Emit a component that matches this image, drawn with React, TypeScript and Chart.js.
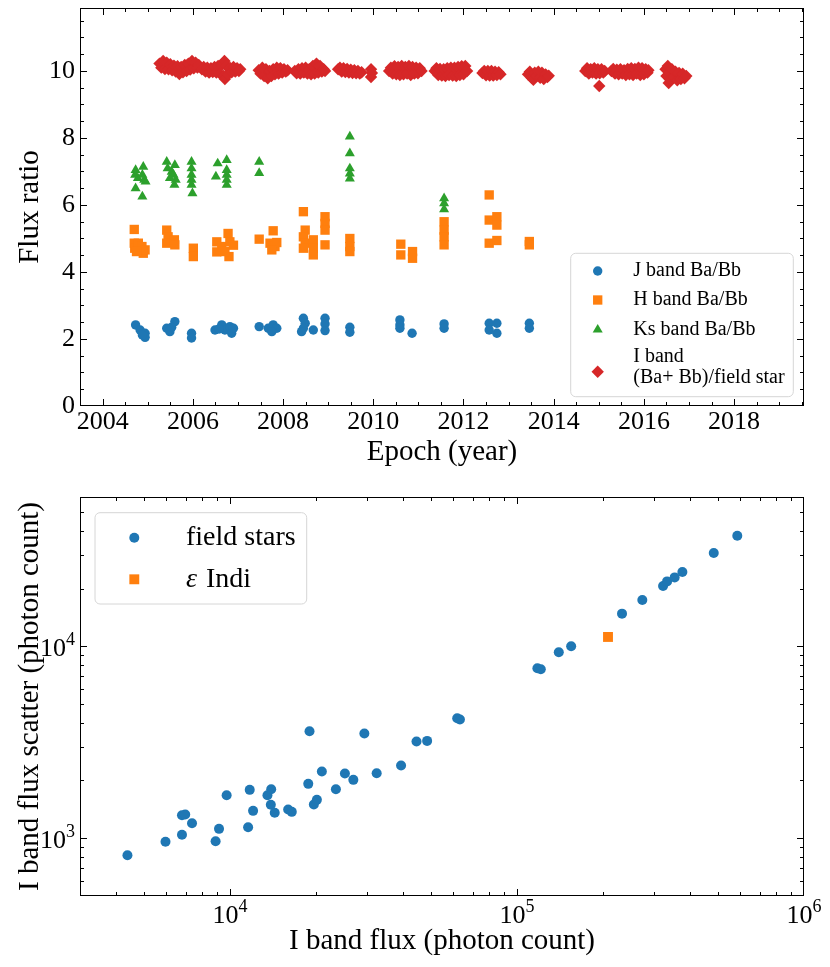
import React, { useEffect, useRef } from 'react';
import { Chart, registerables } from 'chart.js';

Chart.register(...registerables);

const SERIF = 'Liberation Serif';
const BLUE = '#1f77b4';
const ORANGE = '#ff7f0e';
const GREEN = '#2ca02c';
const RED = '#d62728';

// ---------- Top panel: flux ratio vs epoch ----------
const jYear = [2004.73, 2004.83, 2004.94, 2004.94, 2004.88, 2005.42, 2005.60, 2005.49, 2005.53, 2005.97, 2005.97, 2006.49, 2006.64, 2006.71, 2006.82, 2006.86, 2006.90, 2006.58, 2007.47, 2007.67, 2007.78, 2007.86, 2007.75, 2008.45, 2008.49, 2008.45, 2008.41, 2008.67, 2008.93, 2008.93, 2008.93, 2009.48, 2009.48, 2010.59, 2010.59, 2010.59, 2010.86, 2011.57, 2011.57, 2012.57, 2012.74, 2012.57, 2012.74, 2013.46, 2013.46];
const jRatio = [2.42, 2.27, 2.17, 2.05, 2.12, 2.32, 2.52, 2.22, 2.35, 2.17, 2.03, 2.27, 2.42, 2.27, 2.37, 2.17, 2.32, 2.30, 2.37, 2.32, 2.42, 2.32, 2.22, 2.62, 2.47, 2.32, 2.22, 2.27, 2.62, 2.45, 2.25, 2.35, 2.20, 2.57, 2.42, 2.32, 2.17, 2.45, 2.32, 2.47, 2.47, 2.27, 2.17, 2.47, 2.32];

const hYear = [2004.70, 2004.70, 2004.71, 2004.79, 2004.87, 2004.90, 2004.94, 2004.75, 2005.42, 2005.45, 2005.42, 2005.59, 2005.60, 2006.01, 2006.01, 2006.53, 2006.53, 2006.64, 2006.78, 2006.82, 2006.90, 2006.80, 2006.71, 2007.47, 2007.78, 2007.71, 2007.82, 2007.86, 2007.75, 2008.45, 2008.49, 2008.45, 2008.49, 2008.45, 2008.67, 2008.67, 2008.67, 2008.93, 2008.93, 2008.93, 2008.93, 2009.48, 2009.48, 2009.48, 2010.61, 2010.61, 2010.87, 2010.87, 2011.57, 2011.57, 2011.57, 2011.57, 2012.57, 2012.57, 2012.74, 2012.74, 2012.57, 2012.74, 2013.46, 2013.46];
const hRatio = [5.27, 4.86, 4.71, 4.86, 4.76, 4.56, 4.66, 4.61, 5.25, 5.05, 4.86, 4.96, 4.81, 4.71, 4.46, 4.90, 4.60, 4.76, 5.15, 4.90, 4.80, 4.46, 4.61, 4.98, 5.23, 4.86, 4.76, 4.88, 4.66, 5.80, 5.25, 5.05, 4.86, 4.71, 4.96, 4.71, 4.51, 5.65, 5.45, 5.25, 4.81, 5.00, 4.76, 4.61, 4.83, 4.51, 4.61, 4.41, 5.50, 5.25, 5.05, 4.81, 6.30, 5.55, 5.65, 5.40, 4.86, 4.94, 4.91, 4.81];

const kYear = [2004.73, 2004.72, 2004.78, 2004.90, 2004.88, 2004.92, 2004.95, 2004.73, 2004.88, 2005.42, 2005.44, 2005.53, 2005.60, 2005.57, 2005.62, 2005.59, 2005.49, 2005.97, 2005.97, 2005.97, 2005.97, 2005.97, 2005.99, 2006.55, 2006.51, 2006.75, 2006.75, 2006.75, 2006.75, 2006.75, 2007.47, 2007.47, 2009.48, 2009.48, 2009.48, 2009.48, 2009.48, 2011.57, 2011.57, 2011.57];
const kRatio = [7.04, 6.90, 6.80, 7.14, 6.90, 6.75, 6.70, 6.50, 6.25, 7.29, 7.09, 6.99, 7.19, 6.90, 6.75, 6.60, 6.80, 7.29, 7.09, 6.90, 6.75, 6.60, 6.35, 7.24, 6.85, 7.34, 7.04, 6.90, 6.75, 6.60, 7.29, 6.95, 8.04, 7.54, 7.09, 6.94, 6.79, 6.20, 6.05, 5.87];

const iYear = [
  2005.26, 2005.30, 2005.34, 2005.38, 2005.42, 2005.46, 2005.50, 2005.54, 2005.58, 2005.62, 2005.66, 2005.70, 2005.74, 2005.78, 2005.82, 2005.86, 2005.90, 2005.94, 2005.98, 2006.02, 2006.06, 2006.10, 2006.13,
  2006.20, 2006.24, 2006.28, 2006.32, 2006.36, 2006.40, 2006.44, 2006.48, 2006.52, 2006.56, 2006.60, 2006.64, 2006.68, 2006.70, 2006.71, 2006.74, 2006.78, 2006.82, 2006.86, 2006.90, 2006.94, 2006.98, 2007.02, 2007.05,
  2007.46, 2007.50, 2007.54, 2007.58, 2007.62, 2007.66, 2007.70, 2007.74, 2007.78, 2007.82, 2007.86, 2007.90, 2007.94, 2007.98, 2008.02, 2008.06, 2008.10,
  2008.26, 2008.30, 2008.34, 2008.38, 2008.42, 2008.46, 2008.50, 2008.54, 2008.58, 2008.62, 2008.66, 2008.70, 2008.74, 2008.78, 2008.82, 2008.86, 2008.90, 2008.93,
  2009.22, 2009.26, 2009.30, 2009.34, 2009.38, 2009.42, 2009.46, 2009.50, 2009.54, 2009.58, 2009.62, 2009.66, 2009.70, 2009.74,
  2009.95, 2009.95, 2009.97,
  2010.35, 2010.39, 2010.43, 2010.47, 2010.51, 2010.55, 2010.59, 2010.63, 2010.67, 2010.71, 2010.75, 2010.79, 2010.83, 2010.87, 2010.91, 2010.95, 2010.99, 2011.03, 2011.07,
  2011.36, 2011.40, 2011.44, 2011.48, 2011.52, 2011.56, 2011.60, 2011.64, 2011.68, 2011.72, 2011.76, 2011.80, 2011.84, 2011.88, 2011.92, 2011.96, 2012.00, 2012.04, 2012.08,
  2012.42, 2012.46, 2012.50, 2012.54, 2012.58, 2012.62, 2012.66, 2012.70, 2012.74, 2012.78, 2012.82,
  2013.43, 2013.47, 2013.51, 2013.55, 2013.58, 2013.62, 2013.66, 2013.70, 2013.74, 2013.78, 2013.82, 2013.86, 2013.89,
  2014.70, 2014.74, 2014.78, 2014.82, 2014.86, 2014.90, 2014.94, 2014.98, 2015.01, 2015.02, 2015.06, 2015.10, 2015.13,
  2015.28, 2015.32, 2015.36, 2015.40, 2015.44, 2015.48, 2015.52, 2015.56, 2015.60, 2015.64, 2015.68, 2015.72, 2015.76, 2015.80, 2015.84, 2015.88, 2015.92, 2015.96, 2016.00, 2016.04, 2016.08, 2016.10,
  2016.48, 2016.50, 2016.53, 2016.55, 2016.56, 2016.58, 2016.62, 2016.66, 2016.70, 2016.74, 2016.78, 2016.82, 2016.86, 2016.90, 2016.94,
];
const iRatio = [
  10.22, 10.10, 10.30, 10.06, 10.25, 10.05, 10.20, 10.02, 10.16, 9.98, 10.14, 9.91, 10.12, 9.96, 10.18, 10.00, 10.22, 10.04, 10.30, 10.08, 10.25, 10.10, 10.18,
  10.05, 10.12, 9.98, 10.10, 9.95, 10.08, 9.97, 10.12, 9.95, 10.15, 9.92, 10.18, 9.85, 10.30, 9.76, 10.15, 9.90, 10.10, 9.96, 10.12, 9.98, 10.08, 10.00, 10.05,
  10.02, 9.92, 10.10, 9.85, 10.05, 9.78, 10.00, 9.85, 10.05, 9.90, 10.10, 9.92, 10.08, 9.95, 10.05, 9.98, 10.02,
  10.00, 9.93, 10.05, 9.92, 10.08, 9.95, 10.10, 9.92, 10.05, 9.90, 10.15, 9.92, 10.22, 9.95, 10.15, 9.98, 10.05, 10.00,
  10.05, 10.10, 9.98, 10.08, 9.97, 10.06, 9.95, 10.04, 9.94, 10.02, 9.93, 10.00, 9.92, 9.96,
  10.05, 9.82, 9.94,
  10.00, 10.10, 9.92, 10.14, 9.90, 10.12, 9.88, 10.15, 9.90, 10.12, 9.92, 10.15, 9.88, 10.12, 9.92, 10.10, 9.93, 10.08, 10.00,
  10.00, 10.08, 9.88, 10.06, 9.86, 10.05, 9.85, 10.08, 9.88, 10.10, 9.86, 10.10, 9.85, 10.12, 9.88, 10.14, 9.90, 10.15, 10.00,
  9.94, 10.00, 9.87, 10.00, 9.86, 10.00, 9.86, 9.98, 9.88, 9.96, 9.90,
  9.90, 9.98, 9.80, 9.74, 9.95, 9.85, 9.98, 9.80, 9.95, 9.76, 9.90, 9.82, 9.86,
  10.00, 10.08, 9.92, 10.05, 9.95, 10.08, 9.92, 10.05, 9.55, 9.93, 10.05, 9.95, 10.00,
  10.00, 10.06, 9.92, 10.04, 9.90, 10.05, 9.92, 10.02, 9.88, 10.06, 9.90, 10.08, 9.88, 10.06, 9.92, 10.10, 9.88, 10.08, 9.90, 10.05, 9.95, 10.02,
  10.05, 9.85, 10.15, 9.64, 9.95, 9.75, 10.05, 9.82, 9.98, 9.72, 9.94, 9.76, 9.92, 9.78, 9.85,
];

const yearTicks = [2004, 2006, 2008, 2010, 2012, 2014, 2016, 2018];
const ratioTicks = [0, 2, 4, 6, 8, 10];

// ---------- Bottom panel: I band flux vs scatter ----------
const fieldFlux = [4390, 5957, 6800, 6800, 6980, 7370, 8906, 9153, 9730, 11560, 11710, 12030, 13500, 13910, 13870, 14310, 15940, 16410, 18730, 18920, 19590, 20070, 20890, 23380, 25130, 26890, 29380, 32430, 39440, 44640, 48610, 61880, 63250, 117750, 121000, 139800, 154400, 232200, 273300, 322800, 333400, 354300, 376900, 484800, 585500];
const fieldScatter = [815, 958, 1042, 1318, 1329, 1197, 965, 1119, 1675, 1141, 1787, 1389, 1675, 1800, 1493, 1357, 1411, 1372, 1920, 3608, 1498, 1585, 2225, 1800, 2173, 2015, 3510, 2181, 2391, 3189, 3216, 4217, 4152, 7681, 7588, 9306, 10000, 14800, 17450, 20640, 21800, 22870, 24410, 30650, 37730];
const epsFlux = [207500];
const epsScatter = [11190];

const fluxTicks = [1e4, 1e5, 1e6];
const scatterTicks = [1e3, 1e4];

const pts = (xs: number[], ys: number[]) => xs.map((x, i) => ({ x, y: ys[i] }));

function linSteps(a: number, b: number, step: number) {
  const out: number[] = [];
  for (let v = a; v <= b + 1e-9; v += step) out.push(+v.toFixed(6));
  return out;
}
function logMinor(fromExp: number, toExp: number) {
  const out: number[] = [];
  for (let e = fromExp; e <= toExp; e++) for (let m = 2; m <= 9; m++) out.push(m * Math.pow(10, e));
  return out;
}

function drawMarker(ctx: CanvasRenderingContext2D, style: string, x: number, y: number, r: number) {
  ctx.beginPath();
  if (style === 'circle') {
    ctx.arc(x, y, r, 0, Math.PI * 2);
  } else if (style === 'rect') {
    const s = r * Math.SQRT1_2;
    ctx.rect(x - s, y - s, 2 * s, 2 * s);
  } else if (style === 'triangle') {
    for (let k = 0; k < 3; k++) {
      const a = (k * 2 * Math.PI) / 3;
      const px = x + Math.sin(a) * r;
      const py = y - Math.cos(a) * r;
      if (k === 0) ctx.moveTo(px, py);
      else ctx.lineTo(px, py);
    }
  } else if (style === 'rectRot') {
    ctx.moveTo(x - r, y);
    ctx.lineTo(x, y - r);
    ctx.lineTo(x + r, y);
    ctx.lineTo(x, y + r);
  }
  ctx.closePath();
  ctx.fill();
}

const frameTicks = {
  id: 'frameTicks',
  afterDatasetsDraw(chart: any, _args: any, o: any) {
    const { ctx, chartArea: a } = chart;
    const xs = chart.scales.x;
    const ys = chart.scales.y;
    const L = a.left, R = a.right, T = a.top, B = a.bottom;
    ctx.save();
    ctx.strokeStyle = '#000';
    ctx.lineWidth = 1;
    ctx.beginPath();
    const doX = (vals: number[], len: number) => {
      vals.forEach((v) => {
        const px = xs.getPixelForValue(v);
        if (px < L + 1 || px > R - 1) return;
        const p = Math.round(px) + 0.5;
        ctx.moveTo(p, B); ctx.lineTo(p, B - len);
        ctx.moveTo(p, T); ctx.lineTo(p, T + len);
      });
    };
    const doY = (vals: number[], len: number) => {
      vals.forEach((v) => {
        const py = ys.getPixelForValue(v);
        if (py < T + 1 || py > B - 1) return;
        const p = Math.round(py) + 0.5;
        ctx.moveTo(L, p); ctx.lineTo(L + len, p);
        ctx.moveTo(R, p); ctx.lineTo(R - len, p);
      });
    };
    doX(o.xMajor, o.majorLen);
    doX(o.xMinor, o.minorLen);
    doY(o.yMajor, o.majorLen);
    doY(o.yMinor, o.minorLen);
    ctx.stroke();
    ctx.strokeRect(L + 0.5, T + 0.5, R - L - 1, B - T - 1);
    ctx.restore();
  },
};

const boxLegend = {
  id: 'boxLegend',
  afterDraw(chart: any, _args: any, o: any) {
    const { ctx, chartArea: a } = chart;
    const x0 = a.left + o.left;
    const y0 = a.top + o.top;
    const w = o.width, h = o.height, r = 5;
    ctx.save();
    ctx.beginPath();
    ctx.moveTo(x0 + r, y0);
    ctx.lineTo(x0 + w - r, y0);
    ctx.arcTo(x0 + w, y0, x0 + w, y0 + r, r);
    ctx.lineTo(x0 + w, y0 + h - r);
    ctx.arcTo(x0 + w, y0 + h, x0 + w - r, y0 + h, r);
    ctx.lineTo(x0 + r, y0 + h);
    ctx.arcTo(x0, y0 + h, x0, y0 + h - r, r);
    ctx.lineTo(x0, y0 + r);
    ctx.arcTo(x0, y0, x0 + r, y0, r);
    ctx.closePath();
    ctx.fillStyle = 'rgba(255,255,255,0.8)';
    ctx.fill();
    ctx.strokeStyle = '#d6d6d6';
    ctx.lineWidth = 1;
    ctx.stroke();
    const upright = `${o.fontSize}px ${SERIF}`;
    const italic = `italic ${o.fontSize}px ${SERIF}`;
    ctx.textAlign = 'left';
    ctx.textBaseline = 'middle';
    o.entries.forEach((e: any) => {
      const ds = chart.data.datasets[e.ds];
      ctx.fillStyle = ds.backgroundColor;
      drawMarker(ctx, ds.pointStyle, x0 + o.markerX, y0 + e.markerY, ds.pointRadius);
      ctx.fillStyle = '#000';
      const lines = String(ds.label).split('\n');
      lines.forEach((ln: string, i: number) => {
        const ty = y0 + e.lineY[i];
        if (e.italicFirst) {
          const first = ln.charAt(0);
          const rest = ln.slice(1);
          ctx.font = italic;
          ctx.fillText(first, x0 + o.textX, ty);
          const wf = ctx.measureText(first).width;
          ctx.font = upright;
          ctx.fillText(rest, x0 + o.textX + wf + 2, ty);
        } else {
          ctx.font = upright;
          ctx.fillText(ln, x0 + o.textX, ty);
        }
      });
    });
    ctx.restore();
  },
};

const logLabels = {
  id: 'logLabels',
  afterDraw(chart: any, _args: any, o: any) {
    const { ctx, chartArea: a } = chart;
    const xs = chart.scales.x;
    const ys = chart.scales.y;
    const big = `${o.size}px ${SERIF}`;
    const small = `${o.expSize}px ${SERIF}`;
    ctx.save();
    ctx.fillStyle = '#000';
    ctx.textBaseline = 'alphabetic';
    ctx.textAlign = 'left';
    const parts = (v: number) => ['10', String(Math.round(Math.log10(v)))];
    o.xVals.forEach((v: number) => {
      const px = xs.getPixelForValue(v);
      const [b, e] = parts(v);
      ctx.font = big;
      const wb = ctx.measureText(b).width;
      ctx.font = small;
      const we = ctx.measureText(e).width;
      const sx = px - (wb + we) / 2;
      const base = a.bottom + o.xBase;
      ctx.font = big;
      ctx.fillText(b, sx, base);
      ctx.font = small;
      ctx.fillText(e, sx + wb, base - o.expRaise);
    });
    o.yVals.forEach((v: number) => {
      const py = ys.getPixelForValue(v);
      const [b, e] = parts(v);
      ctx.font = small;
      const we = ctx.measureText(e).width;
      ctx.font = big;
      const wb = ctx.measureText(b).width;
      const rx = a.left - o.yGap;
      const base = py + o.yBase;
      ctx.fillText(b, rx - we - wb, base);
      ctx.font = small;
      ctx.fillText(e, rx - we, base - o.expRaise);
    });
    ctx.restore();
  },
};

const tickFont = { family: SERIF, size: 26 };
const titleFont = { family: SERIF, size: 29 };

const fitX = (h: number) => (s: any) => {
  s.height = h;
  s.paddingLeft = 0;
  s.paddingRight = 0;
  s.paddingTop = 0;
  s.paddingBottom = 0;
};
const fitY = (w: number) => (s: any) => {
  s.width = w;
  s.paddingLeft = 0;
  s.paddingRight = 0;
  s.paddingTop = 0;
  s.paddingBottom = 0;
};

function topConfig(): any {
  return {
    type: 'scatter',
    data: {
      datasets: [
        { label: 'J band Ba/Bb', data: pts(jYear, jRatio), pointStyle: 'circle', pointRadius: 4.7, backgroundColor: BLUE, borderWidth: 0, order: 4 },
        { label: 'H band Ba/Bb', data: pts(hYear, hRatio), pointStyle: 'rect', pointRadius: 6.6, backgroundColor: ORANGE, borderWidth: 0, order: 3 },
        { label: 'Ks band Ba/Bb', data: pts(kYear, kRatio), pointStyle: 'triangle', pointRadius: 5.8, backgroundColor: GREEN, borderWidth: 0, order: 2 },
        { label: 'I band\n(Ba+ Bb)/field star', data: pts(iYear, iRatio), pointStyle: 'rectRot', pointRadius: 6.2, backgroundColor: RED, borderWidth: 0, order: 1 },
      ],
    },
    options: {
      responsive: false,
      animation: false,
      events: [],
      font: { family: SERIF },
      layout: { padding: { top: 8, right: 26, left: 0, bottom: 0 } },
      plugins: {
        legend: { display: false },
        tooltip: { enabled: false },
        frameTicks: {
          xMajor: yearTicks,
          xMinor: linSteps(2003.5, 2019.5, 0.5).filter((v) => !yearTicks.includes(v)),
          yMajor: ratioTicks,
          yMinor: linSteps(0.5, 11.5, 0.5).filter((v) => !ratioTicks.includes(v)),
          majorLen: 7,
          minorLen: 4,
        },
        boxLegend: {
          left: 490.7,
          top: 245.3,
          width: 222.6,
          height: 143.4,
          markerX: 27,
          textX: 62.6,
          fontSize: 20,
          entries: [
            { ds: 0, markerY: 17.7, lineY: [17.7] },
            { ds: 1, markerY: 46.7, lineY: [46.7] },
            { ds: 2, markerY: 76.4, lineY: [76.4] },
            { ds: 3, markerY: 118.4, lineY: [103.7, 124.7] },
          ],
        },
      },
      scales: {
        x: {
          type: 'linear',
          position: 'bottom',
          min: 2003.497,
          max: 2019.55,
          afterBuildTicks: (s: any) => { s.ticks = yearTicks.map((value) => ({ value })); },
          afterFit: fitX(74),
          grid: { display: false, drawTicks: false },
          border: { display: false },
          ticks: { font: tickFont, color: '#000', padding: 1, maxRotation: 0, autoSkip: false, callback: (v: any) => String(v) },
          title: { display: true, text: 'Epoch (year)', font: titleFont, color: '#000', padding: { top: 0, bottom: 10 } },
        },
        y: {
          type: 'linear',
          min: 0,
          max: 11.88,
          afterBuildTicks: (s: any) => { s.ticks = ratioTicks.map((value) => ({ value })); },
          afterFit: fitY(80),
          grid: { display: false, drawTicks: false },
          border: { display: false },
          ticks: { font: tickFont, color: '#000', padding: 5, autoSkip: false, callback: (v: any) => String(v) },
          title: { display: true, text: 'Flux ratio', font: titleFont, color: '#000', padding: { top: 13, bottom: 0 } },
        },
      },
    },
    plugins: [frameTicks, boxLegend],
  };
}

function bottomConfig(): any {
  return {
    type: 'scatter',
    data: {
      datasets: [
        { label: 'field stars', data: pts(fieldFlux, fieldScatter), pointStyle: 'circle', pointRadius: 5, backgroundColor: BLUE, borderWidth: 0, order: 2 },
        { label: 'ε Indi', data: pts(epsFlux, epsScatter), pointStyle: 'rect', pointRadius: 7, backgroundColor: ORANGE, borderWidth: 0, order: 1 },
      ],
    },
    options: {
      responsive: false,
      animation: false,
      events: [],
      layout: { padding: { top: 17, right: 26, left: 0, bottom: 0 } },
      plugins: {
        legend: { display: false },
        tooltip: { enabled: false },
        frameTicks: {
          xMajor: fluxTicks,
          xMinor: logMinor(3, 5),
          yMajor: scatterTicks,
          yMinor: logMinor(2, 4),
          majorLen: 7,
          minorLen: 4,
        },
        boxLegend: {
          left: 15,
          top: 15.7,
          width: 211.7,
          height: 91.3,
          markerX: 39.3,
          textX: 91,
          fontSize: 28,
          entries: [
            { ds: 0, markerY: 25, lineY: [25] },
            { ds: 1, markerY: 66.6, lineY: [66.6], italicFirst: true },
          ],
        },
        logLabels: {
          xVals: fluxTicks,
          yVals: scatterTicks,
          size: 26,
          expSize: 18,
          expRaise: 11,
          xBase: 27,
          yBase: 10,
          yGap: 5,
        },
      },
      scales: {
        x: {
          type: 'logarithmic',
          position: 'bottom',
          min: 3000,
          max: 1e6,
          afterFit: fitX(71),
          grid: { display: false, drawTicks: false },
          border: { display: false },
          ticks: { display: false },
          title: { display: true, text: 'I band flux (photon count)', font: titleFont, color: '#000', padding: { top: 0, bottom: 8 } },
        },
        y: {
          type: 'logarithmic',
          min: 500,
          max: 60000,
          afterFit: fitY(80),
          grid: { display: false, drawTicks: false },
          border: { display: false },
          ticks: { display: false },
          title: { display: true, text: 'I band flux scatter (photon count)', font: titleFont, color: '#000', padding: { top: 13, bottom: 0 } },
        },
      },
    },
    plugins: [frameTicks, boxLegend, logLabels],
  };
}

function ChartCanvas({ make, top, height }: { make: () => any; top: number; height: number }) {
  const ref = useRef<HTMLCanvasElement | null>(null);
  useEffect(() => {
    if (!ref.current) return;
    const chart = new Chart(ref.current, make());
    return () => chart.destroy();
  }, []);
  return (
    <canvas
      ref={ref}
      width={830}
      height={height}
      style={{ position: 'absolute', left: 0, top, width: 830, height, display: 'block' }}
    />
  );
}

export default function App() {
  Chart.defaults.font.family = SERIF;
  Chart.defaults.color = '#000';
  return (
    <div style={{ position: 'fixed', left: 0, top: 0, width: 830, height: 967, background: '#fff', overflow: 'hidden', fontFamily: SERIF }}>
      <ChartCanvas make={topConfig} top={0} height={480} />
      <ChartCanvas make={bottomConfig} top={480} height={487} />
    </div>
  );
}
